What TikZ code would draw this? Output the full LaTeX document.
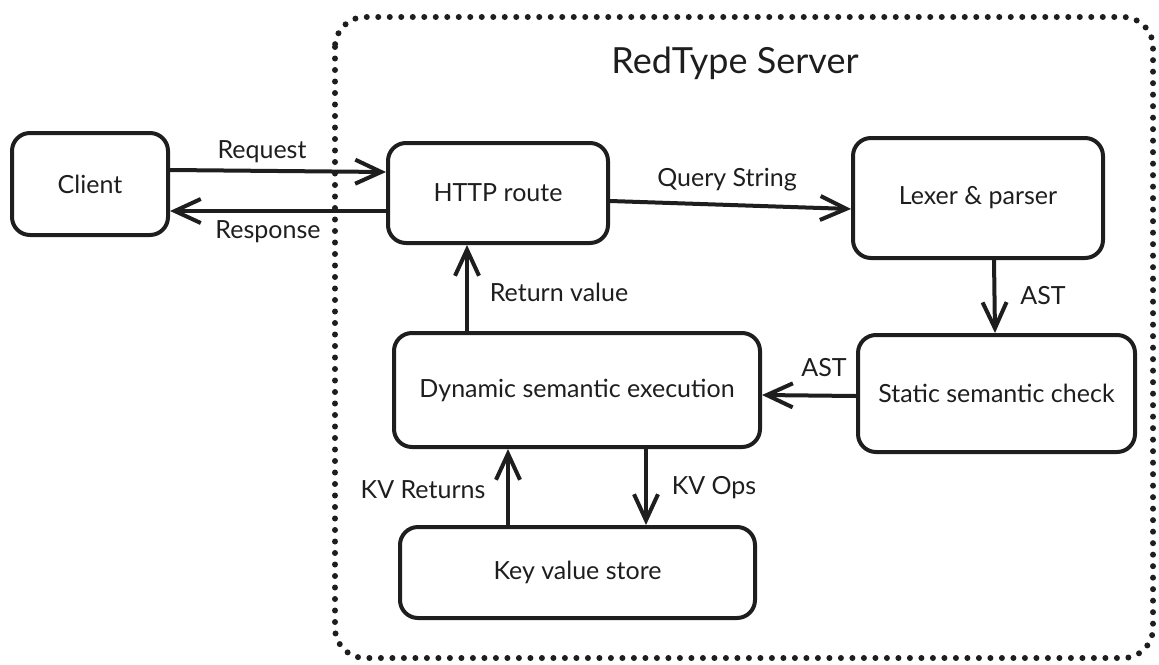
\documentclass[tikz,border=0pt]{standalone}
\usepackage{fontspec}
\setmainfont{Lato}
\usetikzlibrary{arrows.meta}
\definecolor{ink}{HTML}{1E1E1E}
\tikzset{
  box/.style={draw=ink, line width=4pt, rounded corners=18pt, inner sep=0pt, text=ink, font=\fontsize{25}{30}\selectfont},
  conn/.style={draw=ink, line width=4pt, line cap=round, -{Straight Barb[length=26pt, width=24pt, line width=4pt]}},
  lbl/.style={text=ink, font=\fontsize{25}{30}\selectfont, inner sep=0pt},
}
\begin{document}
\begin{tikzpicture}[x=1pt, y=-1pt]
\useasboundingbox (0,0) rectangle (1159,664);
% server boundary
\draw[ink, line width=6pt, line cap=round, dash pattern=on 0pt off 11.5pt, rounded corners=30pt]
  (335,17) rectangle (1153,658);
\node[text=ink, font=\fontsize{36}{42}\selectfont] (title) at (735,63) {RedType Server};
% boxes
\node[box, minimum width=156pt, minimum height=102pt] (client) at (90,184) {Client};
\node[box, minimum width=220pt, minimum height=100pt] (http) at (498,193) {HTTP route};
\node[box, minimum width=250pt, minimum height=120pt] (lexer) at (978,198) {Lexer \& parser};
\node[box, minimum width=277pt, minimum height=117pt] (static) at (996.5,393.5) {Static semantic check};
\node[box, minimum width=366pt, minimum height=114pt] (dyn) at (577,390) {Dynamic semantic execution};
\node[box, minimum width=355pt, minimum height=91pt] (kv) at (577.5,572.5) {Key value store};
% connectors
\draw[conn] (client.east |- 0,170) -- (http.west |- 0,172);
\node[lbl] (lreq) at (262,152) {Request};
\draw[conn] (http.west |- 0,211) -- (client.east |- 0,211);
\node[lbl] (lresp) at (268,232) {Response};
\draw[conn] (http.east |- 0,201) -- (lexer.west |- 0,209);
\node[lbl] (lqs) at (727,180) {Query String};
\draw[conn] (lexer.south -| 994,0) -- (static.north -| 995,0);
\node[lbl] (last1) at (1043,296) {AST};
\draw[conn] (static.west |- 0,396) -- (dyn.east |- 0,395);
\node[lbl] (last2) at (824,368) {AST};
\draw[conn] (dyn.north -| 467,0) -- (http.south -| 467,0);
\node[lbl] (lret) at (559,292) {Return value};
\draw[conn] (kv.north -| 508,0) -- (dyn.south -| 508,0);
\node[lbl] (lkvr) at (423,490) {KV Returns};
\draw[conn] (dyn.south -| 646,0) -- (kv.north -| 646,0);
\node[lbl] (lkvo) at (714,488) {KV Ops};
\end{tikzpicture}
\end{document}
